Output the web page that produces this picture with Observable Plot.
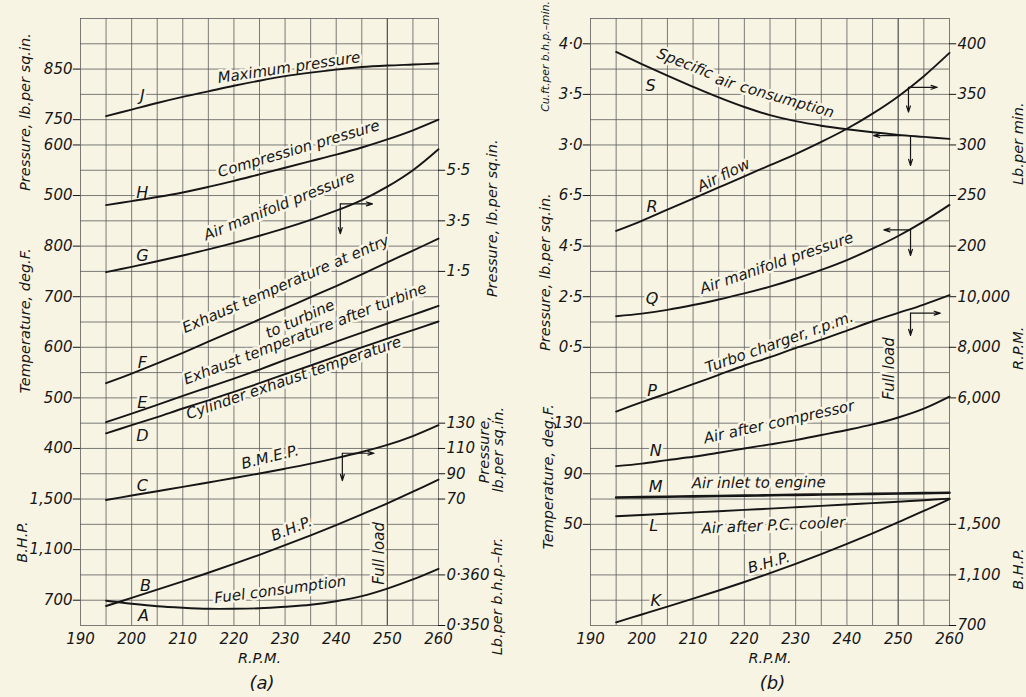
<!DOCTYPE html>
<html>
<head>
<meta charset="utf-8">
<script src="https://cdn.jsdelivr.net/npm/d3@7"></script>
<script src="https://cdn.jsdelivr.net/npm/@observablehq/plot@0.6"></script>
<style>
  html, body { margin: 0; padding: 0; background: #f7f4e4; }
  #wrap { position: relative; width: 1026px; height: 697px; overflow: hidden; }
  #wrap svg { position: absolute; top: 0; overflow: visible; }
</style>
</head>
<body>
<div id="wrap"></div>
<script>
// ---------------- DATA ----------------
const rpm = [195, 200, 205, 210, 215, 220, 225, 230, 235, 240, 245, 250, 255, 260];

// Panel (a)
const maxPressure     = [757, 770, 783, 795, 806, 817, 827, 836, 843, 849, 854, 857, 859, 861];            // J  lb/sq.in.
const compPressure    = [481, 489, 497, 506, 517, 529, 542, 555, 568, 581, 595, 611, 629, 650];            // H  lb/sq.in.
const airManifoldA    = [1.47, 1.68, 1.90, 2.13, 2.37, 2.63, 2.91, 3.21, 3.54, 3.90, 4.32, 4.85, 5.50, 6.33]; // G lb/sq.in.
const exhaustEntry    = [529, 548, 568, 589, 611, 633, 655, 677, 699, 721, 744, 768, 791, 815];            // F  deg F
const exhaustAfter    = [452, 469, 486, 504, 521, 538, 556, 575, 593, 611, 629, 647, 664, 682];            // E  deg F
const cylExhaust      = [430, 446, 462, 479, 495, 512, 529, 547, 564, 582, 600, 617, 634, 651];            // D  deg F
const bmep            = [69.2, 72.8, 76.2, 79.6, 83.1, 86.6, 90.2, 94.0, 98.0, 102.4, 107.2, 112.8, 119.8, 128.4]; // C
const bhpA            = [654, 718, 783, 849, 917, 987, 1059, 1135, 1213, 1294, 1379, 1466, 1558, 1654];    // B
const fuelCons        = [0.3549, 0.3543, 0.3538, 0.3535, 0.3533, 0.3533, 0.3534, 0.3537, 0.3541, 0.3548, 0.3558, 0.3573, 0.3591, 0.3612]; // A

// Panel (b)
const specificAir     = [3.92, 3.80, 3.685, 3.575, 3.47, 3.375, 3.295, 3.235, 3.19, 3.155, 3.125, 3.10, 3.08, 3.06]; // S
const airFlow         = [215, 225, 236, 247, 258, 269, 280, 291, 303, 316, 331, 348, 368, 391];            // R lb/min
const airManifoldB    = [1.73, 1.83, 1.98, 2.17, 2.39, 2.63, 2.90, 3.21, 3.56, 3.95, 4.40, 4.90, 5.48, 6.13]; // Q
const turboRpm        = [5460, 5830, 6180, 6540, 6910, 7280, 7610, 7970, 8300, 8660, 9030, 9360, 9690, 10060]; // P
const airAfterComp    = [96, 98, 100.8, 103.4, 106.6, 110, 113.2, 116.6, 120.6, 124.6, 129, 134.5, 141.5, 151]; // N
const airInlet        = [71.2, 71.5, 71.8, 72.1, 72.4, 72.7, 73.0, 73.3, 73.6, 73.8, 74.1, 74.4, 74.7, 75.0]; // M
const airAfterCooler  = [56.4, 57.4, 58.4, 59.4, 60.4, 61.4, 62.4, 63.5, 64.6, 65.7, 66.8, 67.9, 69.1, 70.3]; // L
const bhpB            = [725, 787, 849, 912, 977, 1044, 1114, 1188, 1265, 1345, 1429, 1517, 1606, 1700];   // K

// Tick labels as printed
const xTickLabels     = ["190", "200", "210", "220", "230", "240", "250", "260"];
const aMaxPressTicks  = ["850", "750"];
const aCompPressTicks = ["600", "500"];
const aTempTicks      = ["800", "700", "600", "500", "400"];
const aBhpTicks       = ["1,500", "1,100", "700"];
const aManifoldTicks  = ["5·5", "3·5", "1·5"];
const aBmepTicks      = ["130", "110", "90", "70"];
const aFuelTicks      = ["0·360", "0·350"];
const bSpecAirTicks   = ["4·0", "3·5", "3·0"];
const bManifoldTicks  = ["6·5", "4·5", "2·5", "0·5"];
const bTempTicks      = ["130", "90", "50"];
const bAirFlowTicks   = ["400", "350", "300", "250", "200"];
const bTurboTicks     = ["10,000", "8,000", "6,000"];
const bBhpTicks       = ["1,500", "1,100", "700"];

// ---------------- LAYOUT / HELPERS ----------------
const BG = "#f7f4e4", INK = "#161616", GRID = "#5a5a5a";
const FONT = "DejaVu Sans, Verdana, sans-serif";
const PX_PER_RPM = 5.12, PX_PER_DIV = 25.29;
const num = s => +s.replace(/,/g, "").replace("·", ".");
// An axis occupies part of the 24-division grid: first tick sits on grid line `line`, one division = `per` units
function axis(ticks, line, per) {
  const v0 = num(ticks[0]);
  const u = v => line + (v0 - v) / per;
  return {u, rows: ticks.map(t => ({label: t, u: u(num(t))}))};
}
// label: [text, rpm, gridUnit, angle, offset-above-in-px]
function placeLabels(list) {
  return list.map(([text, x, u, ang, off = 0]) => {
    const t = ang * Math.PI / 180;
    return {text, ang, x: x + Math.sin(t) * off / PX_PER_RPM, u: u - Math.cos(t) * off / PX_PER_DIV};
  });
}

const A = {
  maxP: axis(aMaxPressTicks, 2, 50), compP: axis(aCompPressTicks, 5, 50), temp: axis(aTempTicks, 9, 50),
  bhp: axis(aBhpTicks, 19, 200), man: axis(aManifoldTicks, 6, 1), bmep: axis(aBmepTicks, 16, 20), fuel: axis(aFuelTicks, 22, 0.005)
};
const B = {
  sac: axis(bSpecAirTicks, 1, 0.25), man: axis(bManifoldTicks, 7, 1), temp: axis(bTempTicks, 16, 20),
  flow: axis(bAirFlowTicks, 1, 25), turbo: axis(bTurboTicks, 11, 1000), bhp: axis(bBhpTicks, 20, 200)
};

const panelA = {
  left: 0, ml: 80, mr: 75, tag: "(a)",
  curves: [
    {id: "J", ax: A.maxP, v: maxPressure}, {id: "H", ax: A.compP, v: compPressure},
    {id: "G", ax: A.man, v: airManifoldA}, {id: "F", ax: A.temp, v: exhaustEntry},
    {id: "E", ax: A.temp, v: exhaustAfter}, {id: "D", ax: A.temp, v: cylExhaust},
    {id: "C", ax: A.bmep, v: bmep}, {id: "B", ax: A.bhp, v: bhpA}, {id: "A", ax: A.fuel, v: fuelCons}
  ],
  leftAxes: [A.maxP, A.compP, A.temp, A.bhp], rightAxes: [A.man, A.bmep, A.fuel],
  letters: [["J", 202.1, 3.04], ["H", 202.1, 6.88], ["G", 202.1, 9.37], ["F", 202.1, 13.6], ["E", 202.1, 15.18],
            ["D", 202.1, 16.49], ["C", 202.1, 18.47], ["B", 202.7, 22.42], ["A", 202.3, 23.6]],
  labels: [["Maximum pressure", 230.9, 2.14, -8.5, 5], ["Compression pressure", 233.0, 5.38, -16.5, 6],
           ["Air manifold pressure", 229.3, 7.63, -22, 6], ["Exhaust temperature at entry", 230.5, 10.69, -23.5, 5],
           ["to turbine", 232.6, 11.74, -24, -4], ["Exhaust temperature after turbine", 234.4, 12.73, -21, 7],
           ["Cylinder exhaust temperature", 232.2, 14.51, -19, 8], ["B.M.E.P.", 227.3, 17.54, -14, 5],
           ["B.H.P.", 231.7, 20.4, -22, 6], ["Fuel consumption", 229.2, 22.78, -7.5, 5], ["Full load", 248.4, 21.15, -90, 0]],
  arrows: [[240.8, 7.33, 247.1, 7.33], [240.8, 7.33, 240.8, 8.51],
           [241.2, 17.19, 247.4, 17.19], [241.2, 17.19, 241.2, 18.27]],
  titles: [["Pressure, lb.per sq.in.", 179.3, 3.7, 14.5], ["Temperature, deg.F.", 179.3, 11.95, 14.5], ["B.H.P.", 178.6, 20.7, 14.5],
           ["Pressure, lb.per sq.in.", 270.6, 7.9, 14.5], ["Pressure,\nlb.per sq.in.", 270.4, 17.05, 14.5], ["Lb.per b.h.p.–hr.", 271.5, 22.85, 14.5]]
};

const panelB = {
  left: 513, ml: 77, mr: 77, tag: "(b)",
  curves: [
    {id: "S", ax: B.sac, v: specificAir}, {id: "R", ax: B.flow, v: airFlow},
    {id: "Q", ax: B.man, v: airManifoldB}, {id: "P", ax: B.turbo, v: turboRpm},
    {id: "N", ax: B.temp, v: airAfterComp}, {id: "M", ax: B.temp, v: airInlet, w: 2.6},
    {id: "L", ax: B.temp, v: airAfterCooler}, {id: "K", ax: B.bhp, v: bhpB}
  ],
  leftAxes: [B.sac, B.man, B.temp], rightAxes: [B.flow, B.turbo, B.bhp],
  letters: [["S", 201.7, 2.65], ["R", 202.0, 7.46], ["Q", 202.0, 11.08], ["P", 202.0, 14.71],
            ["N", 202.7, 17.08], ["M", 202.7, 18.53], ["L", 202.3, 20.05], ["K", 202.7, 23.01]],
  labels: [["Specific", 208.0, 2.0, 21.5, 6], ["air", 215.9, 2.72, 17, 6], ["consumption", 228.0, 3.44, 16, 6],
           ["Air flow", 216.5, 6.41, -26, 6], ["Air manifold pressure", 226.7, 9.9, -19, 6],
           ["Turbo charger, r.p.m.", 227.2, 13.03, -19.5, 6], ["Air after compressor", 227.0, 16.19, -12.5, 6],
           ["Air inlet to engine", 222.8, 18.28, -0.5, -2], ["Air after P.C. cooler", 225.6, 19.81, -2.5, -6],
           ["B.H.P.", 225.1, 21.75, -16, 6], ["Full load", 248.3, 13.84, -90, 0]],
  arrows: [[252.0, 2.72, 257.6, 2.72], [252.0, 2.72, 252.0, 3.7],
           [252.4, 4.63, 245.2, 4.63], [252.4, 4.63, 252.4, 5.81],
           [252.4, 8.36, 247.2, 8.36], [252.4, 8.36, 252.4, 9.37],
           [252.4, 11.65, 258.2, 11.65], [252.4, 11.65, 252.4, 12.53]],
  titles: [["Cu.ft.per b.h.p.–min.", 181.2, 1.5, 10.8], ["Pressure, lb.per sq.in.", 181.2, 10.03, 14.5], ["Temperature, deg.F.", 181.8, 18.12, 14.5],
           ["Lb.per min.", 273.4, 4.95, 14.5], ["R.P.M.", 273.4, 13.04, 14.5], ["B.H.P.", 273.4, 21.77, 14.5]]
};

function makePanel(p) {
  const rowsOf = cs => cs.flatMap(c => rpm.map((r, i) => ({id: c.id, rpm: r, u: c.ax.u(c.v[i])})));
  const rows = rowsOf(p.curves.filter(c => !c.w));
  const boldRows = rowsOf(p.curves.filter(c => c.w));
  const leftTicks = p.leftAxes.flatMap(a => a.rows);
  const rightTicks = p.rightAxes.flatMap(a => a.rows);
  const labels = placeLabels(p.labels);
  const txt = {fontStyle: "italic", fill: INK};
  const halo = {stroke: BG, strokeWidth: 5, paintOrder: "stroke"};
  const titleMarks = p.titles.map(t => Plot.text([t], {x: d => d[1], y: d => d[2], text: d => d[0], rotate: -90,
    fontSize: t[3], lineHeight: 0.95, ...txt}));
  return Plot.plot({
    width: 513, height: 697,
    marginLeft: p.ml, marginRight: p.mr, marginTop: 18, marginBottom: 72,
    x: {domain: [190, 260], axis: null},
    y: {domain: [0, 24], reverse: true, axis: null},
    style: {background: "transparent", fontFamily: FONT, overflow: "visible"},
    marks: [
      Plot.ruleX(d3.range(190, 261, 5), {y1: 0, y2: 24, stroke: GRID, strokeWidth: d => d === 250 ? 1.3 : 0.8}),
      Plot.ruleY(d3.range(0, 25), {x1: 190, x2: 260, stroke: GRID, strokeWidth: 0.8}),
      Plot.ruleY(leftTicks, {y: "u", x1: 188.6, x2: 190, stroke: INK, strokeWidth: 1}),
      Plot.ruleY(rightTicks, {y: "u", x1: 260, x2: 261.4, stroke: INK, strokeWidth: 1}),
      Plot.text(p.letters, {x: d => d[1], y: d => d[2], text: d => d[0], fontSize: 16, ...txt, ...halo}),
      Plot.text(labels, {x: "x", y: "u", text: "text", rotate: "ang", fontSize: 15, ...txt, ...halo}),
      Plot.line(rows, {x: "rpm", y: "u", z: "id", curve: "catmull-rom", stroke: INK, strokeWidth: 1.9}),
      Plot.line(boldRows, {x: "rpm", y: "u", z: "id", curve: "catmull-rom", stroke: INK, strokeWidth: 2.6}),
      Plot.arrow(p.arrows, {x1: d => d[0], y1: d => d[1], x2: d => d[2], y2: d => d[3],
        stroke: INK, strokeWidth: 1.2, headLength: 8, headAngle: 35}),
      Plot.text(leftTicks, {x: 190, y: "u", text: "label", dx: -8, textAnchor: "end", fontSize: 15, ...txt}),
      Plot.text(rightTicks, {x: 260, y: "u", text: "label", dx: 8, textAnchor: "start", fontSize: 15, ...txt}),
      Plot.text(xTickLabels, {x: d => num(d), y: 24, dy: 14, text: d => d, fontSize: 15, ...txt}),
      Plot.text(["R.P.M."], {x: 225, y: 24, dy: 33, text: d => d, fontSize: 14.5, ...txt}),
      Plot.text([p.tag], {x: 225.5, y: 24, dy: 58, text: d => d, fontSize: 18, ...txt}),
      ...titleMarks
    ]
  });
}

const wrap = document.getElementById("wrap");
for (const p of [panelA, panelB]) {
  const svg = makePanel(p);
  svg.style.left = p.left + "px";
  wrap.appendChild(svg);
}
</script>
</body>
</html>
